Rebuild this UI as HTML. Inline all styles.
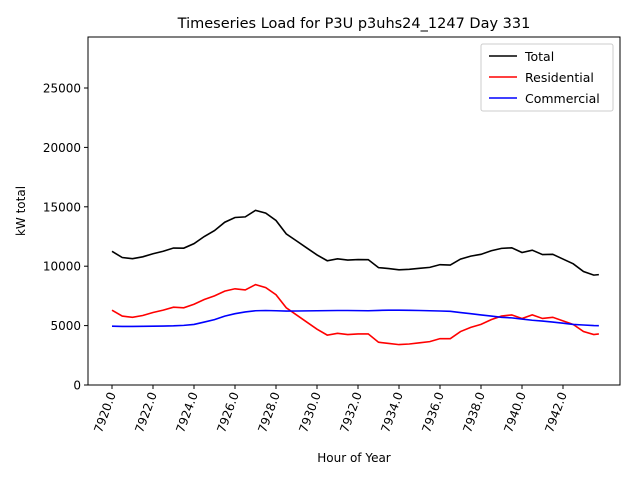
<!DOCTYPE html>
<html><head><meta charset="utf-8"><style>
body{margin:0;background:#fff;}
svg{font-family:"DejaVu Sans","Liberation Sans",sans-serif;}
</style></head><body>
<svg width="640" height="480" id="c">
<rect width="640" height="480" fill="#fff"/>
<text x="354" y="28" font-size="14.5" text-anchor="middle">Timeseries Load for P3U p3uhs24_1247  Day 331</text>
<text x="354" y="462" font-size="12" text-anchor="middle">Hour of Year</text>
<text transform="translate(25,211) rotate(-90)" font-size="12" text-anchor="middle">kW total</text>
<g id="plot"></g>
<rect x="88" y="37" width="532" height="348" fill="none" stroke="#000" stroke-width="1"/>
<g>
<rect x="481" y="44" width="132" height="67" fill="#fff" stroke="#ccc" rx="2"/>
<line x1="489" y1="56" x2="517" y2="56" stroke="#000" stroke-width="1.5"/><text x="525" y="61" font-size="12.5">Total</text>
<line x1="489" y1="77" x2="517" y2="77" stroke="red" stroke-width="1.5"/><text x="525" y="82" font-size="12.5">Residential</text>
<line x1="489" y1="98" x2="517" y2="98" stroke="blue" stroke-width="1.5"/><text x="525" y="103" font-size="12.5">Commercial</text>
</g>
</svg>
<script>
const hours=[7920,7920.5,7921,7921.5,7922,7922.5,7923,7923.5,7924,7924.5,7925,7925.5,7926,7926.5,7927,7927.5,7928,7928.5,7929,7929.5,7930,7930.5,7931,7931.5,7932,7932.5,7933,7933.5,7934,7934.5,7935,7935.5,7936,7936.5,7937,7937.5,7938,7938.5,7939,7939.5,7940,7940.5,7941,7941.5,7942,7942.5,7943,7943.5,7943.75];
const residential=[6300,5800,5700,5850,6100,6300,6550,6500,6800,7200,7500,7900,8100,8000,8450,8200,7600,6500,5900,5300,4700,4200,4350,4250,4300,4300,3600,3500,3400,3450,3550,3650,3900,3900,4500,4850,5100,5500,5800,5900,5600,5900,5600,5700,5400,5100,4500,4250,4300];
const commercial=[4950,4930,4930,4940,4950,4960,4980,5020,5100,5300,5500,5800,6000,6150,6250,6270,6250,6220,6230,6240,6250,6260,6270,6270,6260,6250,6280,6300,6300,6290,6270,6250,6230,6200,6100,6000,5900,5800,5700,5650,5550,5450,5380,5300,5200,5100,5050,5000,4990];
const total=[11250,10730,10630,10790,11050,11260,11530,11520,11900,12500,13000,13700,14100,14150,14700,14470,13850,12720,12130,11540,10950,10460,10620,10520,10560,10550,9880,9800,9700,9740,9820,9900,10130,10100,10600,10850,11000,11300,11500,11550,11150,11350,10980,11000,10600,10200,9550,9250,9290];
const xTicks=[7920,7922,7924,7926,7928,7930,7932,7934,7936,7938,7940,7942];
const yTicks=[0,5000,10000,15000,20000,25000];
const X=h=>112+(h-7920)*20.5;
const Y=v=>385-v*(59.4/5000);
const g=document.getElementById('plot');
const NS='http://www.w3.org/2000/svg';
function mk(t,a){const e=document.createElementNS(NS,t);for(const k in a)e.setAttribute(k,a[k]);g.appendChild(e);return e;}
xTicks.forEach(t=>{
 const l=mk('line',{x1:X(t),x2:X(t),y1:385,y2:389,stroke:'#000'});
 
 
 const tx=mk('text',{'font-size':'12','text-anchor':'end',transform:`translate(${X(t)+4},394) rotate(-70)`});
 tx.textContent=t.toFixed(1);
 
 
});
yTicks.forEach(t=>{
 const l=mk('line',{x1:84,x2:88,y1:Y(t),y2:Y(t),stroke:'#000'});
 
 
 const tx=mk('text',{'font-size':'12','text-anchor':'end',x:81,y:Y(t)+4.5});
 tx.textContent=t;
 
 
});
[[total,'#000','total-line'],[residential,'red','residential-line'],[commercial,'blue','commercial-line']].forEach(([d,c,n])=>{
 const p=mk('polyline',{points:d.map((v,i)=>X(hours[i])+','+Y(v)).join(' '),fill:'none',stroke:c,'stroke-width':1.6});
 
 
});
</script>
</body></html>
